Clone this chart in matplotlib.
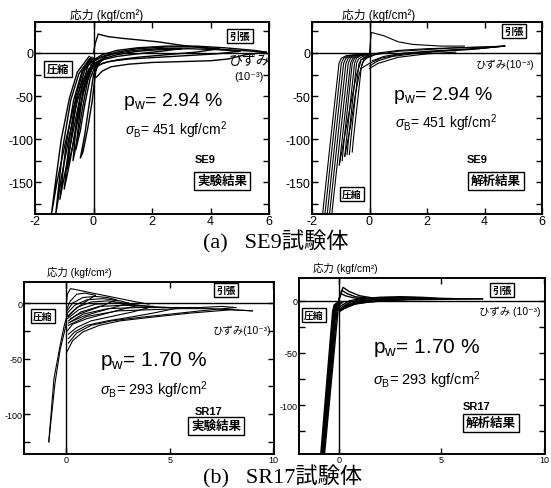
import matplotlib
matplotlib.use('Agg')
import matplotlib.pyplot as plt

# fonts: Arial-like latin, gothic CJK as fallback
plt.rcParams['font.family'] = ['Liberation Sans', 'Noto Sans CJK JP', 'DejaVu Sans']
plt.rcParams['mathtext.fontset'] = 'custom'
plt.rcParams['mathtext.rm'] = 'Liberation Sans'
plt.rcParams['mathtext.it'] = 'Liberation Sans:italic'
plt.rcParams['axes.unicode_minus'] = False

# ---- data (strain 1e-3, stress kgf/cm2) ----
# (a) SE9 experiment
se9_exp_x = [
    [0, 0.05, 0.16, 0.5, 1.0, 1.6, 2.2, 3.0, 4.0, 5.0, 5.9],
    [0.0, 0.3, 0.8, 1.5, 2.5, 3.5, 4.5, 5.5, 5.9],
    [-0.05, 0.3, 0.8, 1.5, 2.5, 3.5, 4.3],
    [-0.1, 0.2, 0.7, 1.4, 2.2, 3.0],
    [-0.1, 0.3, 0.8, 1.5, 2.3, 3.2, 4.2, 5.0],
    [5.9, 5.2, 4.6, 4.0, 3.0, 2.0, 1.2, 0.6, 0.3, 0.1],
    [4.3, 3.5, 2.5, 1.5, 0.8, 0.3, 0.0],
    [5.0, 4.2, 3.2, 2.2, 1.2, 0.5, 0.1],
    [3.0, 2.3, 1.5, 0.8, 0.3, 0.0],
    [0.3, 0.1, -0.05, -0.2, -0.36, -0.45, -0.3, -0.15, 0.0, 0.2],
    [0.05, -0.2, -0.38, -0.52, -0.6, -0.45, -0.3, -0.12, 0.1],
    [0.0, -0.2, -0.4, -0.58, -0.7, -0.55, -0.38, -0.2, 0.0, 0.4],
    [-0.05, -0.3, -0.55, -0.75, -0.9, -0.72, -0.52, -0.3, -0.05],
    [-0.05, -0.35, -0.6, -0.82, -1.0, -0.8, -0.6, -0.35, -0.05, 0.4],
    [-0.1, -0.4, -0.68, -0.95, -1.15, -0.95, -0.72, -0.45, -0.1, 0.3],
    [-0.1, -0.5, -0.78, -1.05, -1.3, -1.1, -0.85, -0.55, -0.15, 0.2],
    [-0.15, -0.55, -0.82, -1.1, -1.28, -1.45, -1.25, -1.0, -0.7, -0.35, 0.05],
]
se9_exp_y = [
    [0, 10, 22, 19, 17, 15, 13, 9, 5, 3, 1],
    [-8, -2, 3, 6, 8, 8, 6, 3, 1],
    [-10, -4, 1, 5, 7, 7, 5],
    [-12, -6, -1, 3, 5, 5],
    [-14, -7, -2, 2, 4, 5, 4, 2],
    [1, -2, -7, -9, -10, -11, -13, -16, -21, -28],
    [5, 1, -2, -5, -8, -12, -18],
    [2, -1, -3, -5, -7, -10, -15],
    [5, 2, -1, -4, -8, -12],
    [-8, -15, -57, -88, -115, -122, -95, -60, -25, -12],
    [-8, -22, -50, -85, -112, -90, -60, -30, -12],
    [-6, -16, -40, -80, -125, -100, -65, -32, -14, -5],
    [-7, -20, -50, -95, -135, -110, -75, -40, -14],
    [-5, -20, -50, -100, -158, -125, -85, -45, -16, -6],
    [-6, -22, -55, -110, -170, -135, -95, -50, -18, -8],
    [-5, -24, -55, -110, -190, -145, -100, -55, -18, -9],
    [-4, -22, -52, -100, -145, -190, -150, -110, -65, -30, -12],
]

# (a) SE9 analysis
se9_ana_x = [
    [0, 0.06, 0.5, 1.0, 1.5, 2.5, 3.3],
    [-0.2, 0.3, 1.0, 2.0, 3.0, 4.0, 4.7],
    [-0.3, 0.2, 1.0, 2.0, 3.0, 4.0, 4.7],
    [4.7, 3.8, 2.8, 1.8, 1.0, 0.4, 0.0, -0.3],
    [4.7, 3.5, 2.5, 1.5, 0.8, 0.3, 0.0],
    [4.7, 4.0, 3.0, 2.0, 1.2, 0.5, 0.1],
    [0.0, 0.3, 1.0, 2.0, 3.0],
    [0.0, -0.8, -0.98, -1.06, -1.35, -1.64],
    [0.0, -0.72, -0.9, -0.98, -1.27, -1.56],
    [0.0, -0.64, -0.82, -0.9, -1.19, -1.48],
    [0.0, -0.56, -0.74, -0.82, -1.11, -1.40],
    [0.0, -0.5, -0.66, -0.74, -1.03, -1.32],
    [0.0, -0.42, -0.58, -0.66, -0.95, -1.05],
    [0.0, -0.36, -0.52, -0.6, -0.88, -0.95],
    [0.05, -0.3, -0.45, -0.52, -0.8, -0.86],
    [0.05, -0.24, -0.38, -0.45, -0.73, -0.78],
    [0.05, -0.18, -0.3, -0.37, -0.65, -0.7],
    [0.1, -0.1, -0.22, -0.28, -0.56, -0.6],
    [-1.05, -0.8, -0.6, -0.45, -0.3],
    [-0.86, -0.66, -0.5, -0.36, -0.2],
]
se9_ana_y = [
    [0, 24, 20, 13, 10, 8, 8],
    [-6, 0, 3, 5, 6, 7, 8],
    [-8, -2, 2, 4, 6, 7, 8],
    [8, 5, 3, 1, -2, -6, -12, -18],
    [8, 4, 2, -1, -4, -9, -15],
    [8, 6, 4, 2, 0, -4, -9],
    [-18, -12, -5, -1, 1],
    [-1, -3, -6, -12, -100, -190],
    [-1, -3, -6, -12, -100, -190],
    [-1, -3, -6, -12, -100, -190],
    [-1, -3, -6, -12, -100, -190],
    [-1, -3, -6, -12, -100, -190],
    [-1, -3, -6, -12, -100, -130],
    [-1, -3, -6, -12, -100, -125],
    [-1, -3, -6, -12, -100, -120],
    [-2, -4, -7, -12, -100, -118],
    [-2, -5, -8, -13, -100, -118],
    [-3, -6, -10, -15, -100, -115],
    [-130, -85, -50, -25, -10],
    [-120, -85, -50, -25, -8],
]

# (b) SR17 experiment
sr17_exp_x = [
    [0, 0.05, 0.2, 0.5, 1.0, 1.8, 2.6, 3.4, 4.0],
    [0.0, 0.2, 0.5, 0.9, 1.4],
    [0.0, 0.3, 0.8, 1.4, 2.0, 2.4],
    [0.0, 0.4, 1.0, 1.8, 2.6, 3.0],
    [0.05, 0.5, 1.2, 2.0, 2.8, 3.5],
    [0.05, 0.6, 1.4, 2.4, 3.4, 4.2],
    [0.1, 0.7, 1.6, 2.8, 4.0, 5.0, 5.5],
    [0.1, 0.8, 2.0, 3.5, 5.0, 6.5, 7.5, 8.2],
    [0.1, 1.0, 2.5, 4.0, 5.5, 7.0, 8.0, 9.0],
    [1.4, 1.0, 0.6, 0.3, 0.1],
    [2.4, 1.8, 1.2, 0.6, 0.2],
    [3.0, 2.3, 1.5, 0.8, 0.2],
    [3.5, 2.6, 1.8, 1.0, 0.3, 0.05],
    [4.2, 3.2, 2.2, 1.2, 0.5, 0.1],
    [5.5, 4.2, 3.0, 2.0, 1.0, 0.4, 0.1],
    [8.2, 6.5, 5.0, 3.5, 2.2, 1.2, 0.5, 0.1],
    [9.0, 8.0, 6.0, 4.0, 2.6, 1.6, 0.8, 0.3, 0.0],
    [0.05, -0.1, -0.3, -0.6, -0.85],
    [-0.85, -0.55, -0.3, -0.12, 0.0],
]
sr17_exp_y = [
    [0, 8, 13, 12, 10, 7, 4, 1, -1],
    [-6, 2, 8, 9, 7],
    [-8, 0, 5, 6, 5, 3],
    [-10, -2, 3, 4, 2, 0],
    [-12, -4, 1, 2, 0, -2],
    [-14, -6, -1, 0, -2, -3],
    [-16, -8, -3, -2, -3, -4, -4],
    [-18, -10, -5, -4, -4, -4, -3, -4],
    [-20, -12, -7, -6, -5, -5, -6, -7],
    [7, 2, -3, -8, -12],
    [3, -2, -6, -10, -14],
    [0, -4, -8, -12, -17],
    [-2, -6, -10, -14, -19, -25],
    [-3, -8, -12, -16, -22, -28],
    [-4, -9, -13, -16, -20, -26, -32],
    [-4, -7, -10, -13, -16, -20, -27, -36],
    [-7, -6, -9, -13, -16, -20, -26, -34, -45],
    [-10, -20, -38, -68, -125],
    [-125, -72, -42, -28, -18],
]

# (b) SR17 analysis
sr17_ana_x = [
    [0.2, 0.0, -0.05, -0.72],
    [0.16, -0.04, -0.1, -0.75],
    [0.12, -0.08, -0.15, -0.78],
    [0.08, -0.12, -0.19, -0.81],
    [0.04, -0.16, -0.23, -0.84],
    [0.0, -0.2, -0.27, -0.87],
    [-0.04, -0.24, -0.31, -0.9],
    [0.0, 0.5, 1.0, 2.0, 3.0, 4.0, 5.0, 6.0, 7.0],
    [0.0, 0.5, 1.0, 2.0, 3.0, 4.0, 4.8],
    [0.05, 0.5, 1.0, 2.0, 3.0, 4.2],
    [0.05, 0.6, 1.2, 2.0, 3.0, 3.6],
    [7.0, 5.0, 3.0, 2.0, 1.0, 0.5, 0.1],
    [4.8, 3.5, 2.5, 1.5, 0.8, 0.3],
    [4.2, 3.0, 2.0, 1.2, 0.6, 0.2],
    [0.0, 0.05, 0.2, 0.5, 1.0, 1.6],
    [0.0, 0.15, 0.4, 0.8, 1.3],
    [0.0, 0.1, 0.3, 0.7, 1.1],
]
sr17_ana_y = [
    [-1, -4, -10, -150],
    [-1, -4, -10, -150],
    [-1, -4, -10, -150],
    [-1, -4, -10, -150],
    [-1, -4, -10, -150],
    [-1, -4, -10, -150],
    [-1, -4, -10, -150],
    [-6, 0, 2, 3.5, 4, 3.5, 2.5, 2, 2],
    [-8, -1.5, 1, 3, 3.5, 3, 2],
    [-9, -3, 0, 2, 3, 2.5],
    [-10, -3, 0, 1.5, 2, 1.5],
    [2, 1.5, 1, 0, -2, -4, -9],
    [2, 1.5, 0.5, -1, -3, -7],
    [2.5, 1.5, 0.5, -1, -3, -6],
    [0, 6, 13, 9, 5, 3],
    [1, 10, 7, 4, 3],
    [2, 7, 5, 3, 2],
]

pw_values = ['2.94', '2.94', '1.70', '1.70']
fc_values = [451, 451, 293, 293]
specimens = ['SE9', 'SE9', 'SR17', 'SR17']
kinds = ['実験結果', '解析結果', '実験結果', '解析結果']

W, H = 551, 489
fig = plt.figure(figsize=(W / 100, H / 100), dpi=100)


def put(x, y, s, size, ha='left', va='center', box=False, weight='normal', **kw):
    # place text by pixel position of the reference picture
    if box:
        kw['bbox'] = dict(boxstyle='square,pad=0.22', fc='white', ec='black', lw=1.0)
    fig.text(x / W, 1 - y / H, s, fontsize=size, ha=ha, va=va, fontweight=weight, **kw)


def panel(rect, xs, ys, xlim, ylim, xticks, yticks, yminor, lw, tick_size):
    ax = fig.add_axes(rect)
    for cx, cy in zip(xs, ys):
        ax.plot(cx, cy, color='black', lw=lw, solid_joinstyle='round')
    ax.axhline(0, color='black', lw=1.0)
    ax.axvline(0, color='black', lw=1.0)
    ax.set_xlim(xlim)
    ax.set_ylim(ylim)
    ax.set_xticks(xticks)
    ax.set_yticks(yticks)
    ax.set_yticks(yminor, minor=True)
    ax.tick_params(which='both', direction='in', top=True, right=True,
                   labelsize=tick_size, length=4, width=1, pad=1)
    for sp in ax.spines.values():
        sp.set_linewidth(1.4)
    return ax


panel([35 / W, 1 - 215 / H, 234 / W, 192 / H], se9_exp_x, se9_exp_y,
      (-2, 6), (-187, 36), [-2, 0, 2, 4, 6], [-150, -100, -50, 0],
      [-175, -125, -75, -25, 25], 1.0, 9)
panel([312 / W, 1 - 215 / H, 230 / W, 192 / H], se9_ana_x, se9_ana_y,
      (-2, 6), (-187, 36), [-2, 0, 2, 4, 6], [-150, -100, -50, 0],
      [-175, -125, -75, -25, 25], 0.8, 9)
panel([24 / W, 1 - 455 / H, 250 / W, 172 / H], sr17_exp_x, sr17_exp_y,
      (-2.05, 10.05), (-136, 19), [0, 5, 10], [-100, -50, 0],
      [-125, -75, -25], 0.8, 6.5)
panel([299 / W, 1 - 455 / H, 246 / W, 176 / H], sr17_ana_x, sr17_ana_y,
      (-1.95, 10.05), (-147, 22), [0, 5, 10], [-100, -50, 0],
      [-125, -75, -25], 1.0, 6.5)

# ---- annotations ----
ylab = '応力 (kgf/cm²)'
put(70, 15, ylab, 8.5)
put(342, 15, ylab, 8.5)
put(47, 272, ylab, 7.5)
put(313, 268, ylab, 7.5)

put(240, 37, '引張', 7.5, ha='center', box=True, weight='bold')
put(514, 32, '引張', 7, ha='center', box=True, weight='bold')
put(226, 291, '引張', 7, ha='center', box=True, weight='bold')
put(502, 291, '引張', 7, ha='center', box=True, weight='bold')

put(58, 70, '圧縮', 8, ha='center', box=True, weight='bold')
put(352, 195, '圧縮', 7, ha='center', box=True, weight='bold')
put(43, 317, '圧縮', 7, ha='center', box=True, weight='bold')
put(314, 316, '圧縮', 7, ha='center', box=True, weight='bold')

put(249, 61, 'ひずみ', 10, ha='center')
put(249, 77, '(10⁻³)', 8, ha='center')
put(505, 65, 'ひずみ(10⁻³)', 7.5, ha='center')
put(242, 331, 'ひずみ(10⁻³)', 7.5, ha='center')
put(510, 312, 'ひずみ (10⁻³)', 7.5, ha='center')

pw_pos = [(123, 102, 14), (393, 95, 14), (100, 361, 15), (373, 348, 15)]
fc_pos = [(125, 130, 10), (395, 123, 10), (100, 390, 10.5), (373, 380, 10.5)]
sp_pos = [(195, 160), (467, 160), (195, 412), (463, 407)]
kd_pos = [(222, 182), (496, 182), (216, 427), (491, 424)]
for i in range(4):
    x, y, s = pw_pos[i]
    put(x, y, r'p$_{\rm w}$= ' + pw_values[i] + ' %', s)
    x, y, s = fc_pos[i]
    put(x, y, r'$\sigma_{\rm B}$= ' + str(fc_values[i]) + ' kgf/cm$^2$', s)
    put(sp_pos[i][0], sp_pos[i][1], specimens[i], 8, weight='bold')
    put(kd_pos[i][0], kd_pos[i][1], kinds[i], 9, ha='center', box=True, weight='bold')

# captions
cap_font = ['Liberation Serif', 'Noto Sans CJK JP']
put(203, 242, '(a)   SE9試験体', 16, family=cap_font)
put(203, 477, '(b)   SR17試験体', 16, family=cap_font)

fig.savefig('out.png', dpi=100)
